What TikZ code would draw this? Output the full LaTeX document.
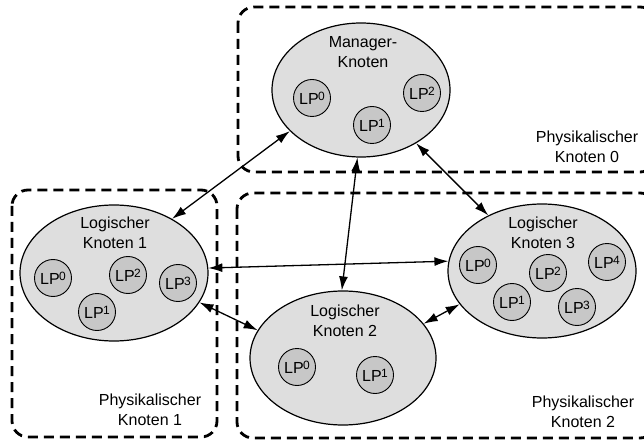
\documentclass[tikz,border=0pt]{standalone}
\usepackage{fontspec}
\setmainfont{Liberation Sans}
\usetikzlibrary{arrows.meta,shapes.geometric}

% LP label with a small raised index
\newcommand\lpname[1]{LP\kern-0.5pt\raisebox{0.45ex}{\fontsize{12}{12}\selectfont #1}}

\begin{document}
\begin{tikzpicture}[x=1pt,y=-1pt,
  knoten/.style={ellipse,draw,line width=1.2pt,fill=black!13,inner sep=0pt},
  lp/.style={circle,draw,line width=0.9pt,fill=black!22,minimum size=37pt,inner sep=0pt,
    font=\fontsize{16}{16}\selectfont},
  phys/.style={draw,line width=2.8pt,dash pattern=on 10pt off 6pt,rounded corners=16pt},
  lbl/.style={align=center,font=\fontsize{16}{20}\selectfont},
  link/.style={{Latex[length=14pt,width=9pt]}-{Latex[length=14pt,width=9pt]},line width=1.3pt}
]
\useasboundingbox (0,0) rectangle (644,443);
\clip (0,0) rectangle (644,443);

% physical nodes (dashed frames)
\draw[phys] (238,7) rectangle (656,172);
\draw[phys] (12,190) rectangle (217,437);
\draw[phys] (237,193) rectangle (656,438);

% logical nodes
\node[knoten,minimum width=178pt,minimum height=134pt] (mgr) at (361,90) {};
\node[knoten,minimum width=188pt,minimum height=136pt] (lk1) at (114,273) {};
\node[knoten,minimum width=188pt,minimum height=134pt] (lk3) at (542,271) {};
\node[knoten,minimum width=186pt,minimum height=134pt] (lk2) at (343,358) {};

% node titles
\node[lbl] (mgrtitle) at (363,52) {Manager-\\Knoten};
\node[lbl] (lk1title) at (115,233) {Logischer\\Knoten 1};
\node[lbl] (lk3title) at (543,233) {Logischer\\Knoten 3};
\node[lbl] (lk2title) at (345,321) {Logischer\\Knoten 2};

% logical processes
\node[lp] (m0) at (312,98) {\lpname{0}};
\node[lp] (m1) at (372,125) {\lpname{1}};
\node[lp] (m2) at (422,93) {\lpname{2}};

\node[lp] (a0) at (53,278) {\lpname{0}};
\node[lp] (a2) at (128,275) {\lpname{2}};
\node[lp] (a3) at (178,283) {\lpname{3}};
\node[lp] (a1) at (97,312) {\lpname{1}};

\node[lp] (c0) at (478,265) {\lpname{0}};
\node[lp] (c2) at (548,273) {\lpname{2}};
\node[lp] (c4) at (607,262) {\lpname{4}};
\node[lp] (c1) at (512,302) {\lpname{1}};
\node[lp] (c3) at (577,307) {\lpname{3}};

\node[lp] (b0) at (297,367) {\lpname{0}};
\node[lp] (b1) at (375,375) {\lpname{1}};

% physical node captions
\node[lbl] (p0) at (587,147) {Physikalischer\\Knoten 0};
\node[lbl] (p1) at (150,410) {Physikalischer\\Knoten 1};
\node[lbl] (p2) at (583,412) {Physikalischer\\Knoten 2};

% communication links
\draw[link] (mgr.210) -- (lk1.43);
\draw[link] (mgr.267) -- (lk2.91);
\draw[link] (mgr.316) -- (lk3.134);
\draw[link] (lk1.3) -- (lk3.174);
\draw[link] (lk1.341) -- (lk2.162);
\draw[link] (lk2.23) -- (lk3.202);
\end{tikzpicture}
\end{document}
